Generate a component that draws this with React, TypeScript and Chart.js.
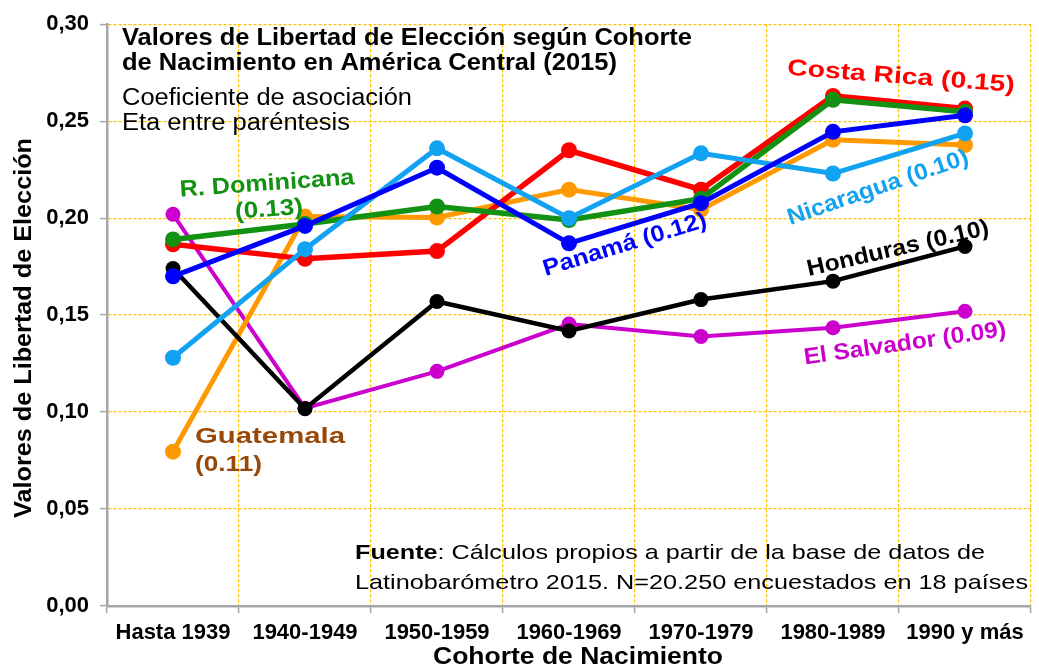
import React, { useEffect, useRef } from "react";
import { Chart, registerables } from "chart.js";

Chart.register(...registerables);

const cohorts = ["Hasta 1939", "1940-1949", "1950-1959", "1960-1969", "1970-1979", "1980-1989", "1990 y más"];

const costaRica = [0.1865, 0.179, 0.183, 0.235, 0.2147, 0.263, 0.2565];
const rDominicana = [0.189, 0.197, 0.206, 0.199, 0.21, 0.261, 0.2548];
const panama = [0.17, 0.196, 0.226, 0.187, 0.2077, 0.2445, 0.253];
const nicaragua = [0.128, 0.184, 0.236, 0.2, 0.2334, 0.223, 0.2437];
const guatemala = [0.0796, 0.2008, 0.2003, 0.2147, 0.2044, 0.2404, 0.2377];
const honduras = [0.174, 0.1017, 0.157, 0.1418, 0.158, 0.1675, 0.1854];
const elSalvador = [0.202, 0.102, 0.121, 0.1454, 0.139, 0.1435, 0.152];

const yTickLabels = ["0,00", "0,05", "0,10", "0,15", "0,20", "0,25", "0,30"];

const FONT = '"Liberation Sans", Arial, sans-serif';

function fitText(
  ctx: CanvasRenderingContext2D,
  text: string,
  x: number,
  y: number,
  width: number,
  font: string,
  color: string,
  angle = 0,
  align: CanvasTextAlign = "center"
) {
  ctx.save();
  ctx.font = font;
  ctx.fillStyle = color;
  ctx.textBaseline = "middle";
  ctx.textAlign = align;
  const w = ctx.measureText(text).width;
  ctx.translate(x, y);
  ctx.rotate((angle * Math.PI) / 180);
  ctx.scale(width / w, 1);
  ctx.fillText(text, 0, 0);
  ctx.restore();
}

const annotations = {
  id: "annotations",
  afterDraw(chart: any) {
    const ctx: CanvasRenderingContext2D = chart.ctx;
    const B = (s: number) => `bold ${s}px ${FONT}`;
    const R = (s: number) => `${s}px ${FONT}`;
    // Title block
    fitText(ctx, "Valores de Libertad de Elección según Cohorte", 122, 39, 570, B(23), "#000", 0, "left");
    fitText(ctx, "de Nacimiento en América Central (2015)", 122, 64, 495, B(23), "#000", 0, "left");
    fitText(ctx, "Coeficiente de asociación", 122, 99, 290, R(23), "#000", 0, "left");
    fitText(ctx, "Eta entre paréntesis", 122, 124, 228, R(23), "#000", 0, "left");

    // Series labels
    fitText(ctx, "Costa Rica (0.15)", 901, 77, 228, B(23), "#FF0000", 4.3);
    fitText(ctx, "R. Dominicana", 267, 184, 175, B(23), "#129112", -4);
    fitText(ctx, "(0.13)", 269, 210, 68, B(23), "#129112", -4);
    fitText(ctx, "Panamá (0.12)", 625, 245, 170, B(23), "#0000FF", -17);
    fitText(ctx, "Nicaragua (0.10)", 878, 188, 190, B(23), "#12A2F2", -19);
    fitText(ctx, "Honduras (0.10)", 898, 249, 186, B(23), "#000000", -13);
    fitText(ctx, "El Salvador (0.09)", 905, 344, 204, B(23), "#CC00CC", -8);
    fitText(ctx, "Guatemala", 195, 437, 150, B(22), "#984807", 0, "left");
    fitText(ctx, "(0.11)", 195, 465, 67, B(22), "#984807", 0, "left");

    // Source note
    const bold = "Fuente";
    const rest = ": Cálculos propios a partir de la base de datos de";
    ctx.save();
    ctx.font = B(21);
    const wb = ctx.measureText(bold).width;
    ctx.font = R(21);
    const wr = ctx.measureText(rest).width;
    ctx.restore();
    const k = 630 / (wb + wr);
    fitText(ctx, bold, 355, 553, wb * k, B(21), "#000", 0, "left");
    fitText(ctx, rest, 355 + wb * k, 553, wr * k, R(21), "#000", 0, "left");
    fitText(ctx, "Latinobarómetro 2015. N=20.250 encuestados en 18 países", 355, 583, 673, R(21), "#000", 0, "left");

    // Axis titles
    fitText(ctx, "Valores de Libertad de Elección", 24, 328, 380, B(24), "#000", -90);
    fitText(ctx, "Cohorte de Nacimiento", 578, 657, 290, B(24), "#000");
  },
};

const GRID = "#FFC000";
const AXIS = "#A6A6A6";

function mk(label: string, data: number[], color: string, width: number, radius: number) {
  return {
    label,
    data,
    borderColor: color,
    backgroundColor: color,
    pointBackgroundColor: color,
    pointBorderColor: color,
    borderWidth: width,
    pointRadius: radius,
    pointBorderWidth: 0,
    tension: 0,
  };
}

export default function App() {
  const ref = useRef<HTMLCanvasElement>(null);
  useEffect(() => {
    if (!ref.current) return;
    const chart = new Chart(ref.current, {
      type: "line",
      data: {
        labels: cohorts,
        datasets: [
          mk("Panamá", panama, "#0000FF", 5, 8),
          mk("Nicaragua", nicaragua, "#12A2F2", 5, 8),
          mk("Honduras", honduras, "#000000", 4.5, 7.5),
          mk("R. Dominicana", rDominicana, "#129112", 5.5, 8),
          mk("Costa Rica", costaRica, "#FF0000", 5.5, 8),
          mk("Guatemala", guatemala, "#FF9900", 5, 8),
          mk("El Salvador", elSalvador, "#CC00CC", 4, 7.5),
        ],
      },
      options: {
        responsive: false,
        animation: false,
        layout: { padding: { top: 22, left: 0, right: 0, bottom: 0 } },
        plugins: { legend: { display: false }, tooltip: { enabled: false }, title: { display: false } },
        scales: {
          x: {
            type: "category",
            offset: true,
            grid: {
              offset: true,
              color: GRID,
              lineWidth: 1.2,
              tickColor: AXIS,
              tickLength: 7,
              tickWidth: 1.5,
            },
            border: { color: AXIS, width: 2.5, dash: [3, 2] },
            ticks: {
              color: "#000",
              font: { family: FONT, size: 22, weight: "bold" },
              padding: 7,
              maxRotation: 0,
              autoSkip: false,
            },
            afterFit: (s: any) => {
              s.height = 63;
            },
          },
          y: {
            min: 0,
            max: 0.3,
            ticks: {
              stepSize: 0.05,
              color: "#000",
              font: { family: FONT, size: 22, weight: "bold" },
              padding: 11,
              callback: (_v: any, i: number) => yTickLabels[i],
            },
            grid: {
              color: GRID,
              lineWidth: 1.2,
              tickColor: AXIS,
              tickLength: 7,
              tickWidth: 1.5,
            },
            border: { color: AXIS, width: 2.5, dash: [3, 2] },
            afterFit: (s: any) => {
              s.width = 107;
            },
          },
        },
      },
      plugins: [annotations],
    });
    return () => chart.destroy();
  }, []);
  return (
    <div style={{ position: "fixed", left: 0, top: 0, width: 1039, height: 669, background: "#fff" }}>
      <canvas ref={ref} width={1039} height={669} />
    </div>
  );
}
